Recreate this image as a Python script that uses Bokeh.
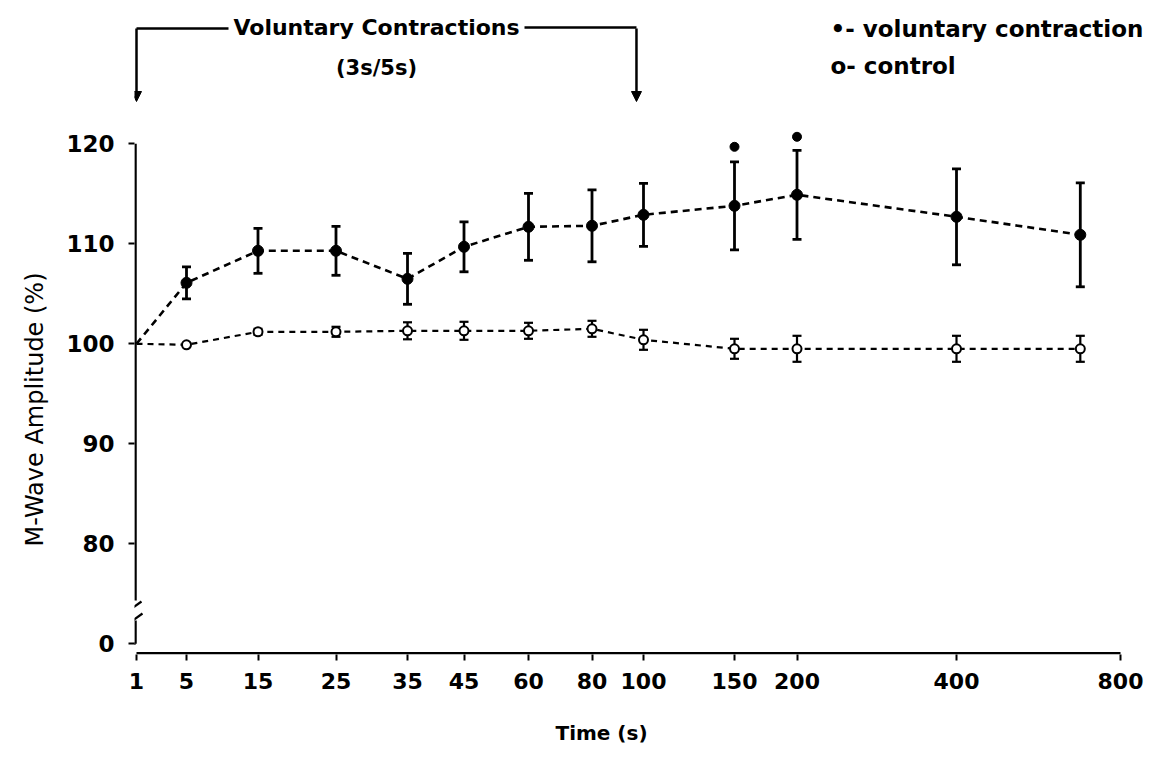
import numpy as np
from bokeh.plotting import figure
from bokeh.models import (Range1d, FixedTicker, Whisker, TeeHead, ColumnDataSource,
                          Title, Arrow, NormalHead)
from bokeh.core.properties import value
from bokeh.embed import file_html
from bokeh.resources import INLINE

# ---------------- data ----------------
time_s = [1, 5, 15, 25, 35, 45, 60, 80, 100, 150, 200, 400, 675]
voluntary_mean = [100.0, 106.1, 109.3, 109.3, 106.5, 109.7, 111.7, 111.8, 112.9, 113.8, 114.9, 112.7, 110.9]
voluntary_sem = [0.0, 1.6, 2.25, 2.45, 2.55, 2.5, 3.35, 3.6, 3.15, 4.4, 4.45, 4.8, 5.2]
control_mean = [100.0, 99.9, 101.2, 101.2, 101.3, 101.3, 101.3, 101.5, 100.4, 99.5, 99.5, 99.5, 99.5]
control_sem = [0.0, 0.0, 0.3, 0.5, 0.85, 0.9, 0.8, 0.8, 1.0, 1.0, 1.3, 1.3, 1.3]
sig_time = [150, 200]
sig_value = [119.7, 120.7]

tick_times = [1, 5, 15, 25, 35, 45, 60, 80, 100, 150, 200, 400, 800]
tick_labels = ["1", "5", "15", "25", "35", "45", "60", "80", "100", "150", "200", "400", "800"]
y_ticks = [70, 80, 90, 100, 110, 120]
y_tick_labels = ["0", "80", "90", "100", "110", "120"]
contraction_window = [1, 97]

# ---------------- hand-drawn axis layout (irregular time axis) ----------------
tick_pos = [136, 186, 257.5, 335.5, 407, 463.5, 528, 591.5, 643, 734, 796.5, 956, 1120]


def xmap(t):
    return np.interp(np.log(np.asarray(t, dtype=float)), np.log(tick_times), tick_pos)


def vy(px):
    # vertical layout helper for decorations (canvas px -> y units)
    return 100 + (343.3 - px) / 10.0


FONT = value("DejaVu Sans")

p = figure(width=1159, height=772, x_range=Range1d(134, 1159), y_range=Range1d(vy(654), vy(0)),
           output_backend="svg", toolbar_location=None,
           min_border_left=134, min_border_right=0, min_border_top=0, min_border_bottom=118)
p.grid.visible = False
p.outline_line_color = None
p.background_fill_color = "white"
p.border_fill_color = "white"

# axes: ticks & labels from bokeh, lines drawn to mimic the broken axis
for ax in (p.xaxis, p.yaxis):
    ax.axis_line_color = None
    ax.major_tick_line_color = "black"
    ax.major_tick_line_width = 2
    ax.major_tick_out = 6
    ax.major_tick_in = 0
    ax.minor_tick_line_color = None
    ax.major_label_text_font = "DejaVu Sans"
    ax.major_label_text_font_style = "bold"
    ax.major_label_text_color = "black"

xpos = list(xmap(tick_times))
p.xaxis.ticker = FixedTicker(ticks=xpos)
p.xaxis.major_label_overrides = {float(v): l for v, l in zip(xpos, tick_labels)}
p.xaxis.major_label_text_font_size = "22px"
p.xaxis.major_label_standoff = 12

p.yaxis.ticker = FixedTicker(ticks=y_ticks)
p.yaxis.major_label_overrides = {v: l for v, l in zip(y_ticks, y_tick_labels)}
p.yaxis.major_label_text_font_size = "23px"
p.yaxis.major_label_standoff = 14

# axis titles in the borders
p.add_layout(Title(text="Time (s)", align="left", offset=421, standoff=54,
                   text_font="DejaVu Sans", text_font_style="bold", text_font_size="20px",
                   text_color="black"), "below")
p.add_layout(Title(text="M-Wave Amplitude (%)", align="left", offset=108, standoff=30,
                   text_font="DejaVu Sans", text_font_style="normal", text_font_size="24px",
                   text_color="black"), "left")

# axis lines
p.segment(x0=[xpos[0]], y0=[vy(652.8)], x1=[xpos[-1]], y1=[vy(652.8)], line_color="black", line_width=2.5)
p.segment(x0=[135], y0=[120], x1=[135], y1=[vy(600)], line_color="black", line_width=2.5)
p.segment(x0=[135, 135], y0=[vy(620), 70], x1=[135, 129], y1=[70, 70], line_color="black", line_width=2.5)
p.segment(x0=[127, 128], y0=[vy(611), vy(623)], x1=[141, 142], y1=[vy(601), vy(613)],
          line_color="black", line_width=2.2)

# data lines
xs = xmap(time_s)
p.line(xs, voluntary_mean, line_color="black", line_width=2.6, line_dash="7 5")
p.line(xs, control_mean, line_color="black", line_width=2.2, line_dash="6 5")

vol = ColumnDataSource(dict(x=xs[1:], m=voluntary_mean[1:],
                            lo=np.array(voluntary_mean[1:]) - np.array(voluntary_sem[1:]),
                            hi=np.array(voluntary_mean[1:]) + np.array(voluntary_sem[1:])))
con = ColumnDataSource(dict(x=xs[1:], m=control_mean[1:],
                            lo=np.array(control_mean[1:]) - np.array(control_sem[1:]),
                            hi=np.array(control_mean[1:]) + np.array(control_sem[1:])))

for src, w in ((vol, 2.8), (con, 2.2)):
    p.add_layout(Whisker(source=src, base="x", lower="lo", upper="hi", dimension="height",
                         line_color="black", line_width=w,
                         upper_head=TeeHead(size=9, line_width=w, line_color="black"),
                         lower_head=TeeHead(size=9, line_width=w, line_color="black")))

p.scatter("x", "m", source=vol, size=11, marker="circle", fill_color="black", line_color="black")
p.scatter("x", "m", source=con, size=9, marker="circle", fill_color="white", line_color="black",
          line_width=2)
p.scatter(xmap(sig_time), sig_value, size=9, marker="circle", fill_color="black", line_color="black")

# top bracket annotation
xl, xr = xmap(contraction_window)
p.segment(x0=[xl, 524], y0=[vy(28), vy(27)], x1=[228, xr], y1=[vy(28), vy(27)],
          line_color="black", line_width=2.5)
for xx in (xl, xr):
    p.add_layout(Arrow(end=NormalHead(size=10, fill_color="black", line_color="black"),
                       x_start=xx, y_start=vy(28), x_end=xx, y_end=vy(101),
                       line_color="black", line_width=2.5))

p.text(x=[376], y=[vy(27)], text=["Voluntary Contractions"], text_font=FONT, text_font_style="bold",
       text_font_size="22px", text_align="center", text_baseline="middle", text_color="black")
p.text(x=[376], y=[vy(67)], text=["(3s/5s)"], text_font=FONT, text_font_style="bold",
       text_font_size="21px", text_align="center", text_baseline="middle", text_color="black")

# legend (as in the figure: text key)
p.text(x=[830, 830], y=[vy(28), vy(65)], text=["\u2022- voluntary contraction", "o- control"],
       text_font=FONT, text_font_style="bold", text_font_size="23px",
       text_align="left", text_baseline="middle", text_color="black")

open("out.html", "w").write(file_html(p, INLINE))
